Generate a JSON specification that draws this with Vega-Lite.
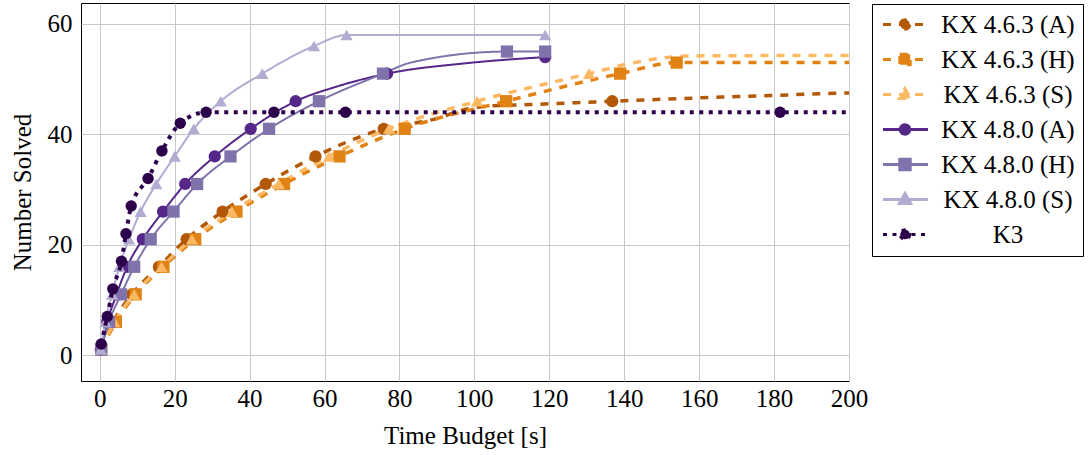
{
  "$schema": "https://vega.github.io/schema/vega-lite/v6.json",
  "autosize": {"type": "none"},
  "padding": {"left": 81, "top": 3, "right": 242, "bottom": 74},
  "width": 768,
  "height": 378,
  "background": "white",
  "data": {
    "values": [
      {"series": "KX 4.6.3 (A)", "t": 0.3, "n": 1, "marked": true},
      {"series": "KX 4.6.3 (A)", "t": 3.6, "n": 6, "marked": true},
      {"series": "KX 4.6.3 (A)", "t": 8.6, "n": 11, "marked": true},
      {"series": "KX 4.6.3 (A)", "t": 15.8, "n": 16, "marked": true},
      {"series": "KX 4.6.3 (A)", "t": 23.2, "n": 21, "marked": true},
      {"series": "KX 4.6.3 (A)", "t": 32.8, "n": 26, "marked": true},
      {"series": "KX 4.6.3 (A)", "t": 44.3, "n": 31, "marked": true},
      {"series": "KX 4.6.3 (A)", "t": 57.6, "n": 36, "marked": true},
      {"series": "KX 4.6.3 (A)", "t": 75.8, "n": 41, "marked": true},
      {"series": "KX 4.6.3 (A)", "t": 89.6, "n": 42.8, "marked": false},
      {"series": "KX 4.6.3 (A)", "t": 97, "n": 44.4, "marked": false},
      {"series": "KX 4.6.3 (A)", "t": 103, "n": 45.1, "marked": false},
      {"series": "KX 4.6.3 (A)", "t": 115, "n": 45.4, "marked": false},
      {"series": "KX 4.6.3 (A)", "t": 136.8, "n": 46, "marked": true},
      {"series": "KX 4.6.3 (A)", "t": 160, "n": 46.6, "marked": false},
      {"series": "KX 4.6.3 (A)", "t": 200, "n": 47.5, "marked": false},

      {"series": "KX 4.6.3 (H)", "t": 0.4, "n": 1, "marked": true},
      {"series": "KX 4.6.3 (H)", "t": 4.3, "n": 6, "marked": true},
      {"series": "KX 4.6.3 (H)", "t": 9.6, "n": 11, "marked": true},
      {"series": "KX 4.6.3 (H)", "t": 17, "n": 16, "marked": true},
      {"series": "KX 4.6.3 (H)", "t": 25.5, "n": 21, "marked": true},
      {"series": "KX 4.6.3 (H)", "t": 36.5, "n": 26, "marked": true},
      {"series": "KX 4.6.3 (H)", "t": 49.2, "n": 31, "marked": true},
      {"series": "KX 4.6.3 (H)", "t": 64, "n": 36, "marked": true},
      {"series": "KX 4.6.3 (H)", "t": 81.4, "n": 41, "marked": true},
      {"series": "KX 4.6.3 (H)", "t": 108.5, "n": 46, "marked": true},
      {"series": "KX 4.6.3 (H)", "t": 138.9, "n": 51, "marked": true},
      {"series": "KX 4.6.3 (H)", "t": 154, "n": 53, "marked": true},
      {"series": "KX 4.6.3 (H)", "t": 200, "n": 53, "marked": false},

      {"series": "KX 4.6.3 (S)", "t": 0.3, "n": 1, "marked": true},
      {"series": "KX 4.6.3 (S)", "t": 3.9, "n": 6, "marked": true},
      {"series": "KX 4.6.3 (S)", "t": 9.2, "n": 11, "marked": true},
      {"series": "KX 4.6.3 (S)", "t": 16.5, "n": 16, "marked": true},
      {"series": "KX 4.6.3 (S)", "t": 24.6, "n": 21, "marked": true},
      {"series": "KX 4.6.3 (S)", "t": 35.3, "n": 26, "marked": true},
      {"series": "KX 4.6.3 (S)", "t": 47.8, "n": 31, "marked": true},
      {"series": "KX 4.6.3 (S)", "t": 61.2, "n": 36, "marked": true},
      {"series": "KX 4.6.3 (S)", "t": 77.2, "n": 41, "marked": true},
      {"series": "KX 4.6.3 (S)", "t": 100.7, "n": 46, "marked": true},
      {"series": "KX 4.6.3 (S)", "t": 130.6, "n": 51, "marked": true},
      {"series": "KX 4.6.3 (S)", "t": 142, "n": 52.9, "marked": false},
      {"series": "KX 4.6.3 (S)", "t": 151, "n": 53.9, "marked": false},
      {"series": "KX 4.6.3 (S)", "t": 157, "n": 54.2, "marked": false},
      {"series": "KX 4.6.3 (S)", "t": 200, "n": 54.3, "marked": false},

      {"series": "KX 4.8.0 (A)", "t": 0.3, "n": 1, "marked": true},
      {"series": "KX 4.8.0 (A)", "t": 2, "n": 6, "marked": true},
      {"series": "KX 4.8.0 (A)", "t": 4.5, "n": 11, "marked": true},
      {"series": "KX 4.8.0 (A)", "t": 7.3, "n": 16, "marked": true},
      {"series": "KX 4.8.0 (A)", "t": 11.5, "n": 21, "marked": true},
      {"series": "KX 4.8.0 (A)", "t": 16.9, "n": 26, "marked": true},
      {"series": "KX 4.8.0 (A)", "t": 22.8, "n": 31, "marked": true},
      {"series": "KX 4.8.0 (A)", "t": 30.7, "n": 36, "marked": true},
      {"series": "KX 4.8.0 (A)", "t": 40.3, "n": 41, "marked": true},
      {"series": "KX 4.8.0 (A)", "t": 52.3, "n": 46, "marked": true},
      {"series": "KX 4.8.0 (A)", "t": 63, "n": 48.6, "marked": false},
      {"series": "KX 4.8.0 (A)", "t": 76.7, "n": 51, "marked": true},
      {"series": "KX 4.8.0 (A)", "t": 98, "n": 52.9, "marked": false},
      {"series": "KX 4.8.0 (A)", "t": 118.9, "n": 54, "marked": true},

      {"series": "KX 4.8.0 (H)", "t": 0.4, "n": 1, "marked": true},
      {"series": "KX 4.8.0 (H)", "t": 2.5, "n": 6, "marked": true},
      {"series": "KX 4.8.0 (H)", "t": 5.7, "n": 11, "marked": true},
      {"series": "KX 4.8.0 (H)", "t": 9.2, "n": 16, "marked": true},
      {"series": "KX 4.8.0 (H)", "t": 13.6, "n": 21, "marked": true},
      {"series": "KX 4.8.0 (H)", "t": 19.7, "n": 26, "marked": true},
      {"series": "KX 4.8.0 (H)", "t": 26, "n": 31, "marked": true},
      {"series": "KX 4.8.0 (H)", "t": 34.9, "n": 36, "marked": true},
      {"series": "KX 4.8.0 (H)", "t": 45.2, "n": 41, "marked": true},
      {"series": "KX 4.8.0 (H)", "t": 58.5, "n": 46, "marked": true},
      {"series": "KX 4.8.0 (H)", "t": 75.6, "n": 51, "marked": true},
      {"series": "KX 4.8.0 (H)", "t": 83, "n": 53, "marked": false},
      {"series": "KX 4.8.0 (H)", "t": 108.7, "n": 55, "marked": true},
      {"series": "KX 4.8.0 (H)", "t": 118.9, "n": 55, "marked": true},

      {"series": "KX 4.8.0 (S)", "t": 0.3, "n": 1, "marked": true},
      {"series": "KX 4.8.0 (S)", "t": 1.5, "n": 6, "marked": true},
      {"series": "KX 4.8.0 (S)", "t": 3.3, "n": 11, "marked": true},
      {"series": "KX 4.8.0 (S)", "t": 5.2, "n": 16, "marked": true},
      {"series": "KX 4.8.0 (S)", "t": 7.8, "n": 21, "marked": true},
      {"series": "KX 4.8.0 (S)", "t": 10.9, "n": 26, "marked": true},
      {"series": "KX 4.8.0 (S)", "t": 15.1, "n": 31, "marked": true},
      {"series": "KX 4.8.0 (S)", "t": 20, "n": 36, "marked": true},
      {"series": "KX 4.8.0 (S)", "t": 25.1, "n": 41, "marked": true},
      {"series": "KX 4.8.0 (S)", "t": 32.3, "n": 46, "marked": true},
      {"series": "KX 4.8.0 (S)", "t": 43.4, "n": 51, "marked": true},
      {"series": "KX 4.8.0 (S)", "t": 57.2, "n": 56, "marked": true},
      {"series": "KX 4.8.0 (S)", "t": 65.9, "n": 58, "marked": true},
      {"series": "KX 4.8.0 (S)", "t": 118.9, "n": 58, "marked": true},

      {"series": "K3", "t": 0.4, "n": 2, "marked": true},
      {"series": "K3", "t": 2, "n": 7, "marked": true},
      {"series": "K3", "t": 3.5, "n": 12, "marked": true},
      {"series": "K3", "t": 5.8, "n": 17, "marked": true},
      {"series": "K3", "t": 7, "n": 22, "marked": true},
      {"series": "K3", "t": 8.4, "n": 27, "marked": true},
      {"series": "K3", "t": 12.9, "n": 32, "marked": true},
      {"series": "K3", "t": 16.6, "n": 37, "marked": true},
      {"series": "K3", "t": 21.5, "n": 42, "marked": true},
      {"series": "K3", "t": 28.4, "n": 44, "marked": true},
      {"series": "K3", "t": 46.5, "n": 44, "marked": true},
      {"series": "K3", "t": 65.6, "n": 44, "marked": true},
      {"series": "K3", "t": 181.6, "n": 44, "marked": true},
      {"series": "K3", "t": 200, "n": 44, "marked": false}
    ]
  },
  "encoding": {
    "x": {
      "field": "t", "type": "quantitative",
      "scale": {"domain": [-5, 200], "nice": false, "zero": false},
      "axis": {"title": "Time Budget [s]", "values": [0, 20, 40, 60, 80, 100, 120, 140, 160, 180, 200], "labelPadding": 5, "titlePadding": 12, "labelFlush": false}
    },
    "y": {
      "field": "n", "type": "quantitative",
      "scale": {"domain": [-4.7, 63.8], "nice": false, "zero": false},
      "axis": {"title": "Number Solved", "values": [0, 20, 40, 60], "labelPadding": 9, "titlePadding": 12}
    },
    "color": {
      "field": "series", "type": "nominal",
      "scale": {
        "domain": ["KX 4.6.3 (A)", "KX 4.6.3 (H)", "KX 4.6.3 (S)", "KX 4.8.0 (A)", "KX 4.8.0 (H)", "KX 4.8.0 (S)", "K3"],
        "range": ["#b35806", "#e08214", "#fdb863", "#542788", "#8073ac", "#b2abd2", "#2d004b"]
      },
      "legend": {
        "title": null,
        "orient": "none",
        "legendX": 791,
        "legendY": 1,
        "strokeColor": "black",
        "fillColor": "white",
        "padding": 8,
        "rowPadding": 9,
        "labelFont": "Times New Roman, Liberation Serif, serif",
        "labelFontSize": 25,
        "labelColor": "black",
        "labelAlign": "center",
        "labelOffset": 103,
        "symbolSize": 256,
        "symbolStrokeWidth": 3,
        "encode": {
          "symbols": {
            "update": {
              "x": {"value": 0},
              "size": {"value": 256},
              "shape": {"signal": "datum.value == 'K3' || indexof(datum.value,'(A)')>=0 ? 'M0.375,0L6,0M3.725,0L3.645,0.3L3.425,0.52L3.125,0.6L2.825,0.52L2.605,0.3L2.525,0L2.605,-0.3L2.825,-0.52L3.125,-0.6L3.425,-0.52L3.645,-0.3Z' : indexof(datum.value,'(H)')>=0 ? 'M0.375,0L6,0M2.475,-0.65L3.775,-0.65L3.775,0.65L2.475,0.65Z' : 'M0.375,0L6,0M3.125,-0.75L3.825,0.5L2.425,0.5Z'"},
              "fill": {"scale": "color", "field": "value"},
              "stroke": {"scale": "color", "field": "value"},
              "strokeDash": {"signal": "indexof(datum.value,'4.6.3')>=0 ? [8,8] : datum.value == 'K3' ? [4,5.5] : [1,0]"},
              "opacity": {"value": 1}
            }
          }
        }
      }
    }
  },
  "layer": [
    {
      "transform": [{"filter": "indexof(datum.series,'4.6.3')>=0"}],
      "mark": {"type": "line", "interpolate": "monotone", "strokeWidth": 3.5},
      "encoding": {
        "strokeDash": {"field": "series", "type": "nominal", "legend": null,
          "scale": {"domain": ["KX 4.6.3 (A)", "KX 4.6.3 (H)", "KX 4.6.3 (S)", "KX 4.8.0 (A)", "KX 4.8.0 (H)", "KX 4.8.0 (S)", "K3"],
                    "range": [[8, 8], [8, 8], [8, 8], [1, 0], [1, 0], [1, 0], [4, 5.5]]}}
      }
    },
    {
      "transform": [{"filter": "datum.series == 'KX 4.6.3 (A)' && datum.marked"}],
      "mark": {"type": "point", "filled": true, "opacity": 1, "size": 150, "shape": "circle"}
    },
    {
      "transform": [{"filter": "datum.series == 'KX 4.6.3 (H)' && datum.marked"}],
      "mark": {"type": "point", "filled": true, "opacity": 1, "size": 150, "shape": "square"}
    },
    {
      "transform": [{"filter": "datum.series == 'KX 4.6.3 (S)' && datum.marked"}],
      "mark": {"type": "point", "filled": true, "opacity": 1, "size": 150, "shape": "triangle-up"}
    },
    {
      "transform": [{"filter": "indexof(datum.series,'4.8.0')>=0"}],
      "mark": {"type": "line", "interpolate": "monotone", "strokeWidth": 2},
      "encoding": {
        "strokeDash": {"field": "series", "type": "nominal", "legend": null}
      }
    },
    {
      "transform": [{"filter": "datum.series == 'KX 4.8.0 (A)' && datum.marked"}],
      "mark": {"type": "point", "filled": true, "opacity": 1, "size": 150, "shape": "circle"}
    },
    {
      "transform": [{"filter": "datum.series == 'KX 4.8.0 (H)' && datum.marked"}],
      "mark": {"type": "point", "filled": true, "opacity": 1, "size": 150, "shape": "square"}
    },
    {
      "transform": [{"filter": "datum.series == 'KX 4.8.0 (S)' && datum.marked"}],
      "mark": {"type": "point", "filled": true, "opacity": 1, "size": 150, "shape": "triangle-up"}
    },
    {
      "transform": [{"filter": "datum.series == 'K3'"}],
      "mark": {"type": "line", "interpolate": "monotone", "strokeWidth": 4},
      "encoding": {
        "strokeDash": {"field": "series", "type": "nominal", "legend": null}
      }
    },
    {
      "transform": [{"filter": "datum.series == 'K3' && datum.marked"}],
      "mark": {"type": "point", "filled": true, "opacity": 1, "size": 130, "shape": "circle"}
    }
  ],
  "config": {
    "view": {"stroke": "black", "strokeWidth": 1},
    "axis": {
      "grid": true, "gridColor": "#c8c8c8", "gridWidth": 1,
      "domain": false, "ticks": false,
      "labelFont": "Times New Roman, Liberation Serif, serif", "labelFontSize": 25, "labelColor": "black",
      "titleFont": "Times New Roman, Liberation Serif, serif", "titleFontSize": 25, "titleFontWeight": "normal", "titleColor": "black"
    }
  }
}
